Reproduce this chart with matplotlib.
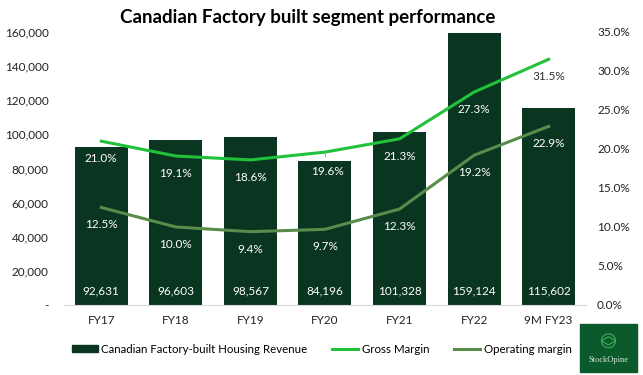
import matplotlib.pyplot as plt
import matplotlib.patches as mpatches
from matplotlib.lines import Line2D
from matplotlib.ticker import FuncFormatter
import numpy as np

plt.rcParams['font.family'] = ['Lato', 'DejaVu Sans']

# data
years = ['FY17', 'FY18', 'FY19', 'FY20', 'FY21', 'FY22', '9M FY23']
revenue = [92631, 96603, 98567, 84196, 101328, 159124, 115602]
gross_margin = [21.0, 19.1, 18.6, 19.6, 21.3, 27.3, 31.5]
op_margin = [12.5, 10.0, 9.4, 9.7, 12.3, 19.2, 22.9]

bar_col = '#0a3520'
gm_col = '#22c13a'
om_col = '#588c4b'

fig = plt.figure(figsize=(6.43, 3.75), dpi=100)
ax = fig.add_axes([0.0995, 0.1867, 0.8118, 0.728])
ax2 = ax.twinx()

x = np.arange(len(years))
ax.bar(x, revenue, width=0.71, color=bar_col, zorder=2)
ax.set_xlim(-0.5, len(years) - 0.5)
ax.set_ylim(0, 160000)
ax.set_yticks(np.arange(0, 160001, 20000))
ax.yaxis.set_major_formatter(FuncFormatter(lambda v, p: '-' if v == 0 else f'{v:,.0f}'))
ax.set_xticks(x)
ax.set_xticklabels(years)
ax.tick_params(length=0, labelsize=8.5, colors='#222222')
ax.tick_params(axis='y', pad=11)
ax.tick_params(axis='x', pad=7)
for s in ['top', 'left', 'right']:
    ax.spines[s].set_visible(False)
ax.spines['bottom'].set_color('#d9d9d9')

for i, v in enumerate(revenue):
    ax.annotate(f'{v:,.0f}', (i, 0), xytext=(0, 10), textcoords='offset points',
                ha='center', va='center', color='white', fontsize=8.5)

ax2.plot(x, gross_margin, color=gm_col, lw=2.2, zorder=3)
ax2.plot(x, op_margin, color=om_col, lw=2.2, zorder=3)
ax2.set_ylim(0, 35)
ax2.set_yticks(np.arange(0, 35.1, 5))
ax2.yaxis.set_major_formatter(FuncFormatter(lambda v, p: f'{v:.1f}%'))
ax2.tick_params(length=0, labelsize=8.5, colors='#222222', pad=8)
for s in ['top', 'left', 'right', 'bottom']:
    ax2.spines[s].set_visible(False)

for i, v in enumerate(gross_margin):
    col = 'white' if i < 6 else '#333333'
    if i == 3:
        ax2.annotate(f'{v:.1f}%', (i, v), xytext=(2, -14), textcoords='offset points',
                     ha='center', va='center', color=col, fontsize=8.5,
                     arrowprops=dict(arrowstyle='-', color='#a0a0a0', lw=0.8,
                                     shrinkA=5, shrinkB=1))
    else:
        ax2.annotate(f'{v:.1f}%', (i, v), xytext=(0, -12.5), textcoords='offset points',
                     ha='center', va='center', color=col, fontsize=8.5)
for i, v in enumerate(op_margin):
    ax2.annotate(f'{v:.1f}%', (i, v), xytext=(0, -12.5), textcoords='offset points',
                 ha='center', va='center', color='white', fontsize=8.5)

fig.text(0.478, 0.952, 'Canadian Factory built segment performance', ha='center', va='center',
         fontsize=13.5, fontweight='bold', color='black')

handles = [mpatches.Patch(color=bar_col),
           Line2D([], [], color=gm_col, lw=2.2),
           Line2D([], [], color=om_col, lw=2.2)]
labels = ['Canadian Factory-built Housing Revenue', 'Gross Margin', 'Operating margin']
fig.legend(handles, labels, loc='center', bbox_to_anchor=(0.50, 0.069), ncol=3, frameon=False,
           fontsize=8.3, handlelength=2.3, handleheight=0.6, handletextpad=0.3, columnspacing=2.1)

# logo box
lx, ly, lw_, lh = 580 / 643, 1 - 372 / 375, 57 / 643, 48 / 375
fig.patches.append(mpatches.Rectangle((lx, ly), lw_, lh, transform=fig.transFigure,
                                      color='#0b5a2b', zorder=5))
fig.patches.append(mpatches.Ellipse((lx + lw_ / 2, ly + lh * 0.65), 14 / 643, 14 / 375,
                                    transform=fig.transFigure, fill=False,
                                    ec='#3fae5a', lw=0.8, zorder=6))
fig.patches.append(mpatches.RegularPolygon((lx + lw_ / 2, ly + lh * 0.65), 4, radius=0.011,
                                           transform=fig.transFigure, fill=False,
                                           ec='#3fae5a', lw=0.8, zorder=6))
fig.text(lx + lw_ / 2, ly + lh * 0.25, 'StockOpine', ha='center', va='center', fontsize=6,
         family='Liberation Serif', color='#d8e8dc', zorder=7)

fig.savefig('out.png', dpi=100)
